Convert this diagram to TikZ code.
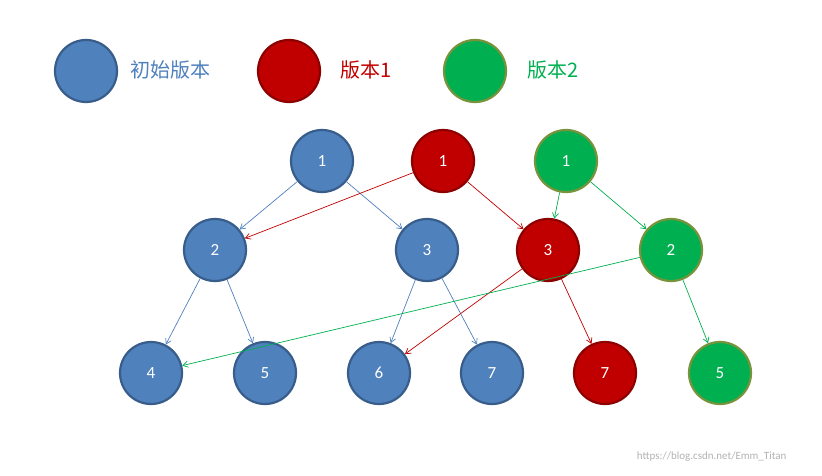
\documentclass[tikz,border=0pt]{standalone}
\usepackage{fontspec}
\setmainfont{Carlito}
\newfontfamily\cjk{Noto Sans CJK SC}
\usetikzlibrary{arrows.meta}
\definecolor{bfill}{HTML}{4F81BD}\definecolor{bline}{HTML}{385D8A}
\definecolor{rfill}{HTML}{C00000}\definecolor{rline}{HTML}{8C0000}
\definecolor{gfill}{HTML}{00B050}\definecolor{gline}{HTML}{77933C}
\tikzset{
 nd/.style={circle,minimum size=62pt,inner sep=0pt,line width=2.2pt,text=white,font=\fontsize{17}{17}\selectfont},
 bn/.style={nd,fill=bfill,draw=bline},
 rn/.style={nd,fill=rfill,draw=rline},
 gn/.style={nd,fill=gfill,draw=gline},
 ar/.style={-{Straight Barb[length=5pt,width=6pt]},line width=0.7pt},
 lg/.style={font=\cjk\fontsize{20}{20}\selectfont,anchor=west}
}
\begin{document}
\begin{tikzpicture}[x=1pt,y=-1pt]
\useasboundingbox[fill=white] (0,0) rectangle (822,476);
\node[bn] (L1) at (86,71) {};
\node[rn] (L2) at (289,71) {};
\node[gn] (L3) at (475,71) {};
\node[lg,text=bfill] (t1) at (127,70) {初始版本};
\node[lg,text=rfill] (t2) at (337,70) {版本1};
\node[lg,text=gfill] (t3) at (524,70) {版本2};
\node[bn] (b1) at (322,161) {1};
\node[rn] (r1) at (443,161) {1};
\node[gn] (g1) at (566,161) {1};
\node[bn] (b2) at (215,250) {2};
\node[bn] (b3) at (427,250) {3};
\node[rn] (r3) at (548,250) {3};
\node[gn] (g2) at (671,250) {2};
\node[bn] (b4) at (151,373) {4};
\node[bn] (b5) at (265,373) {5};
\node[bn] (b6) at (379,373) {6};
\node[bn] (b7) at (492,373) {7};
\node[rn] (r7) at (605,373) {7};
\node[gn] (g5) at (720,373) {5};
\draw[ar,bfill] (b1) -- (b2);
\draw[ar,bfill] (b1) -- (b3);
\draw[ar,bfill] (b2) -- (b4);
\draw[ar,bfill] (b2) -- (b5);
\draw[ar,bfill] (b3) -- (b6);
\draw[ar,bfill] (b3) -- (b7);
\draw[ar,rfill] (r1) -- (b2);
\draw[ar,rfill] (r1) -- (r3);
\draw[ar,rfill] (r3) -- (b6);
\draw[ar,rfill] (r3) -- (r7);
\draw[ar,gfill] (g1) -- (r3);
\draw[ar,gfill] (g1) -- (g2);
\draw[ar,gfill] (g2) -- (b4);
\draw[ar,gfill] (g2) -- (g5);
\node[anchor=east,text=gray!60,font=\fontsize{11}{11}\selectfont] (wm) at (790,457) {https://blog.csdn.net/Emm\_Titan};
\end{tikzpicture}
\end{document}
